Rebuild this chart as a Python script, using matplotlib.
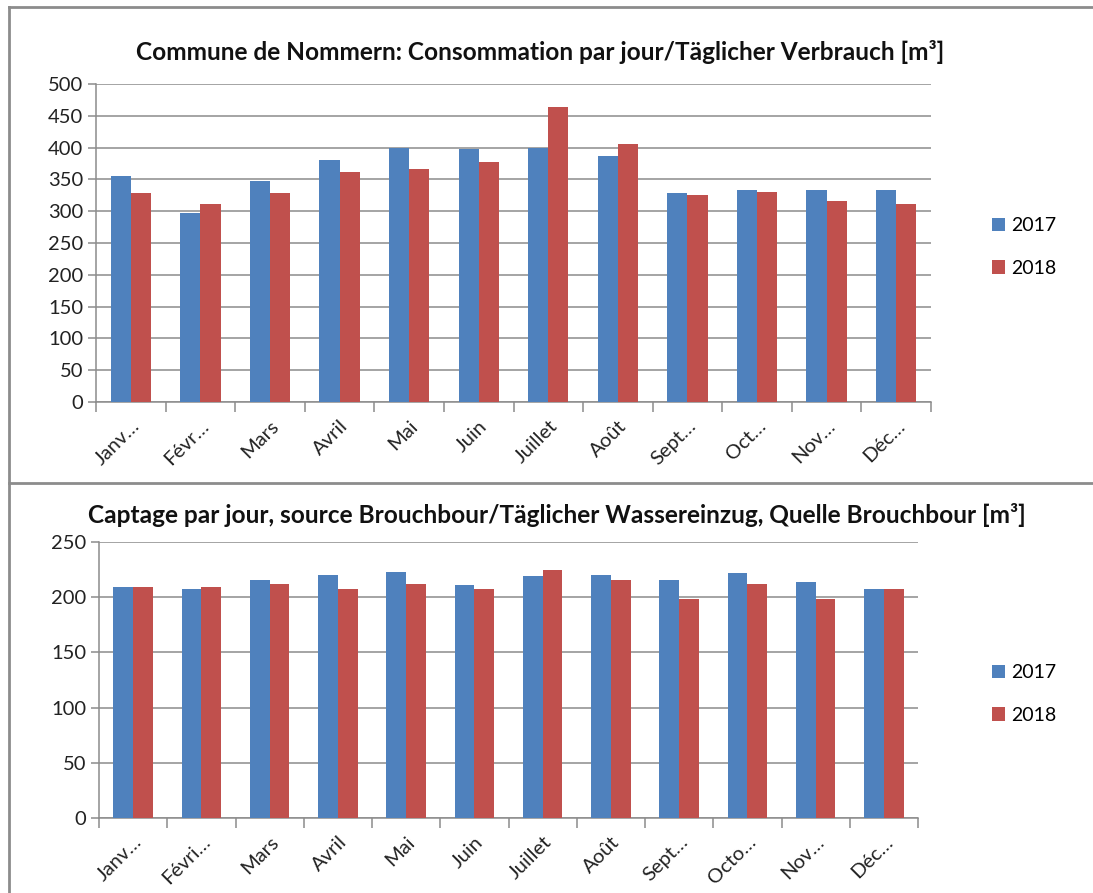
import matplotlib
matplotlib.use("Agg")
from matplotlib import pyplot as plt
from matplotlib.lines import Line2D
import numpy as np

plt.rcParams['font.family'] = ['Lato', 'DejaVu Sans']

years = ['2017', '2018']
colors = ['#4F81BD', '#C0504D']

# consommation par jour
cons_labels = ['Janv…', 'Févr…', 'Mars', 'Avril', 'Mai', 'Juin', 'Juillet', 'Août',
               'Sept…', 'Oct…', 'Nov…', 'Déc…']
cons_2017 = [356, 297, 348, 380, 400, 398, 400, 387, 328, 333, 333, 333]
cons_2018 = [328, 311, 328, 361, 366, 378, 464, 406, 325, 330, 316, 311]

# captage par jour, source Brouchbour
capt_labels = ['Janv…', 'Févri…', 'Mars', 'Avril', 'Mai', 'Juin', 'Juillet', 'Août',
               'Sept…', 'Octo…', 'Nov…', 'Déc…']
capt_2017 = [209, 207, 216, 220, 223, 211, 219, 220, 216, 222, 214, 207]
capt_2018 = [209, 209, 212, 207, 212, 207, 225, 216, 198, 212, 198, 207]

W, H = 1093, 893
fig = plt.figure(figsize=(W / 100, H / 100), dpi=100)


def px_axes(left, top, right, bottom):
    return fig.add_axes([left / W, 1 - bottom / H, (right - left) / W, (bottom - top) / H])


def draw(ax, labels, s1, s2, ymax, step, title, title_x, title_y, legend_y):
    x = np.arange(len(labels))
    bw = 0.29
    ax.bar(x - bw / 2, s1, bw, color=colors[0], label=years[0], zorder=3)
    ax.bar(x + bw / 2, s2, bw, color=colors[1], label=years[1], zorder=3)
    ax.set_xlim(-0.5, len(labels) - 0.5)
    ax.set_ylim(0, ymax)
    ax.set_yticks(np.arange(0, ymax + 1, step))
    ax.yaxis.grid(True, color='#8c8c8c', lw=1.1, zorder=0)
    ax.set_axisbelow(True)
    for s in ['top', 'right']:
        ax.spines[s].set_visible(False)
    for s in ['left', 'bottom']:
        ax.spines[s].set_color('#8c8c8c')
        ax.spines[s].set_linewidth(1.1)
    ax.tick_params(axis='y', length=6, color='#8c8c8c', width=1.1, labelsize=14.5,
                   labelcolor='#222222', pad=3)
    ax.set_xticks(np.arange(-0.5, len(labels)), minor=False)
    ax.set_xticklabels([])
    ax.set_xticks(x, minor=True)
    ax.set_xticklabels(labels, minor=True, rotation=45, ha='right', va='top',
                       rotation_mode='anchor', fontsize=14.5, color='#222222')
    ax.tick_params(axis='x', which='major', length=7, color='#8c8c8c', width=1.1)
    ax.tick_params(axis='x', which='minor', length=0, pad=11)
    fig.text(title_x / W, 1 - title_y / H, title, ha='center', va='center',
             fontsize=17.6, fontweight='bold', color='#111111')
    ax.legend(loc='center left', bbox_to_anchor=(984 / W, 1 - legend_y / H),
              bbox_transform=fig.transFigure, frameon=False, fontsize=14,
              handlelength=0.7, handleheight=0.7, handletextpad=0.3,
              labelspacing=1.3, borderaxespad=0)


ax1 = px_axes(96, 84, 931, 402)
draw(ax1, cons_labels, cons_2017, cons_2018, 500, 50,
     'Commune de Nommern: Consommation par jour/Täglicher Verbrauch [m³]', 540, 52, 247)

ax2 = px_axes(99, 542, 918, 818)
draw(ax2, capt_labels, capt_2017, capt_2018, 250, 50,
     'Captage par jour, source Brouchbour/Täglicher Wassereinzug, Quelle Brouchbour [m³]',
     557, 515, 694)

# panel frames
frame = dict(color='#8c8c8c', lw=2, transform=fig.transFigure)
fig.add_artist(Line2D([8.5 / W, 8.5 / W], [0, 1 - 6.5 / H], **frame))
fig.add_artist(Line2D([8.5 / W, 1], [1 - 6.5 / H, 1 - 6.5 / H], **frame))
fig.add_artist(Line2D([8.5 / W, 1], [1 - 483 / H, 1 - 483 / H], **frame))

fig.savefig('out.png', dpi=100)
